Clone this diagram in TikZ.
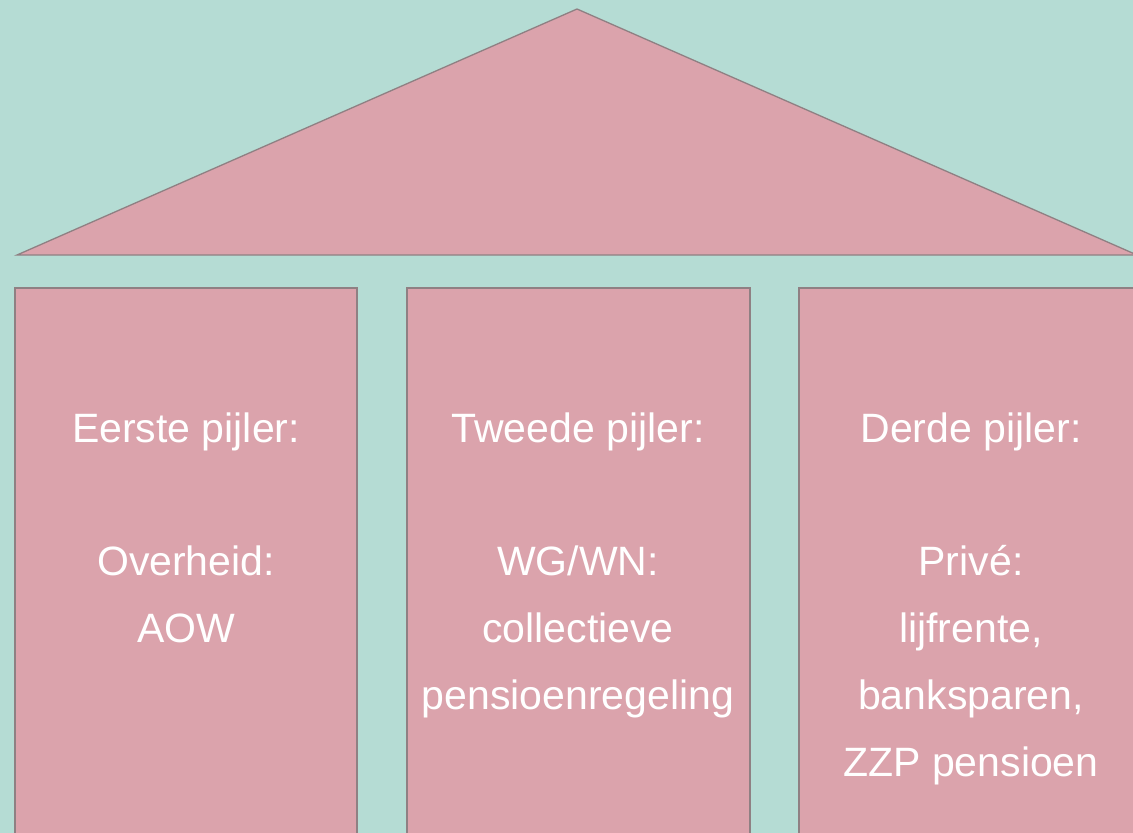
\documentclass[tikz,border=0pt]{standalone}
\usepackage{fontspec}
\setmainfont{Liberation Sans}
\definecolor{bg}{HTML}{B5DCD4}
\definecolor{pinkfill}{HTML}{DBA3AC}
\definecolor{edge}{HTML}{8F8083}
\begin{document}
\begin{tikzpicture}[x=1pt,y=-1pt,
  part/.style={fill=pinkfill,draw=edge,line width=1.3pt},
  lbl/.style={text=white,font=\fontsize{41}{43}\selectfont,anchor=base,inner sep=0pt}]
\useasboundingbox (0,0) rectangle (1133,833);
\fill[bg] (0,0) rectangle (1133,833);
% roof
\coordinate (rl) at (17,255);
\coordinate (rt) at (577,9);
\coordinate (rr) at (1137,255);
\draw[part] (rl) -- (rt) -- (rr) -- cycle;
% pillars
\draw[part] (15,840) -- (15,288) -- (357,288) -- (357,840);
\draw[part] (407,840) -- (407,288) -- (750,288) -- (750,840);
\draw[part] (799,840) -- (799,288) -- (1140,288) -- (1140,840);
% texts
\node[lbl] (a1) at (186,442) {Eerste pijler:};
\node[lbl] (a2) at (186,575) {Overheid:};
\node[lbl] (a3) at (186,642) {AOW};
\node[lbl] (b1) at (578,442) {Tweede pijler:};
\node[lbl] (b2) at (578,575) {WG/WN:};
\node[lbl] (b3) at (578,642) {collectieve};
\node[lbl] (b4) at (578,709) {pensioenregeling};
\node[lbl] (c1) at (971,442) {Derde pijler:};
\node[lbl] (c2) at (971,575) {Privé:};
\node[lbl] (c3) at (971,642) {lijfrente,};
\node[lbl] (c4) at (971,709) {banksparen,};
\node[lbl] (c5) at (971,776) {ZZP pensioen};
\end{tikzpicture}
\end{document}
